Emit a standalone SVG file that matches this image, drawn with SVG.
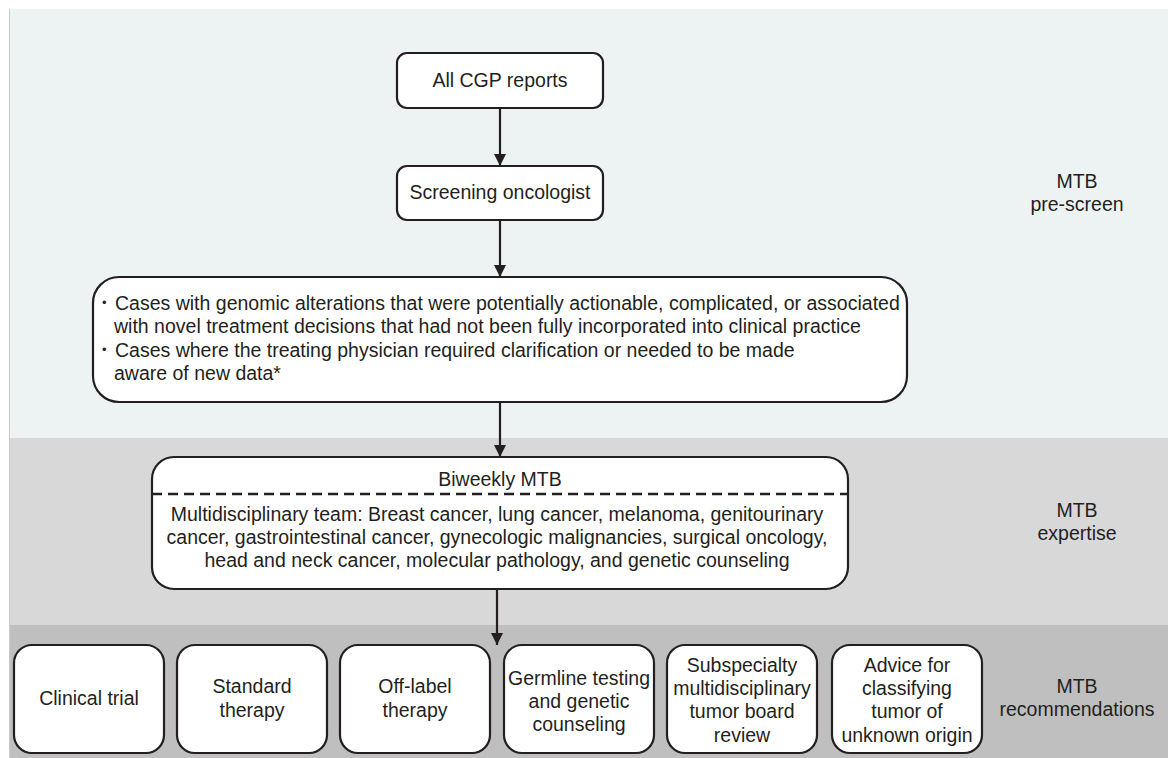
<svg xmlns="http://www.w3.org/2000/svg" width="1168" height="758" viewBox="0 0 1168 758">
<style>
.box{fill:#fff;stroke:#231f20;stroke-width:2.2}
.t{font-family:"Liberation Sans",Arial,sans-serif;font-size:19.5px;fill:#231f20}
.c{text-anchor:middle}
.b{font-family:"Liberation Sans",Arial,sans-serif;font-size:13px;fill:#231f20}
.s{font-family:"Liberation Sans",Arial,sans-serif;font-size:19.5px;fill:#231f20;text-anchor:middle}
.ln{stroke:#231f20;stroke-width:2.2;fill:none}
</style>
<defs>
<marker id="ah" viewBox="0 0 12 12" refX="12" refY="6" markerWidth="12" markerHeight="12" markerUnits="userSpaceOnUse" orient="auto">
<path d="M0,0 L12,6 L0,12 Z" fill="#231f20"/>
</marker>
</defs>
<rect x="0" y="0" width="1168" height="758" fill="#fff"/>
<g id="bands">
<rect x="9" y="9" width="1159" height="429" fill="#edf3f3"/>
<rect x="9" y="438" width="1159" height="187" fill="#d8d8d8"/>
<rect x="9" y="625" width="1159" height="133" fill="#bfbfbf"/>
<line x1="9.5" y1="9" x2="9.5" y2="758" stroke="#c8cccc" stroke-width="1"/>
</g>
<g id="side-labels">
<text class="s" x="1077" y="188">MTB</text>
<text class="s" x="1077" y="211">pre-screen</text>
<text class="s" x="1077" y="517">MTB</text>
<text class="s" x="1077" y="540">expertise</text>
<text class="s" x="1077" y="693">MTB</text>
<text class="s" x="1077" y="716">recommendations</text>
</g>
<g id="connectors">
<line class="ln" x1="500" y1="108" x2="500" y2="166" marker-end="url(#ah)"/>
<line class="ln" x1="500" y1="220" x2="500" y2="277" marker-end="url(#ah)"/>
<line class="ln" x1="500" y1="402" x2="500" y2="457" marker-end="url(#ah)"/>
<line class="ln" x1="497" y1="590" x2="497" y2="645" marker-end="url(#ah)"/>
</g>
<g id="node-cgp">
<rect class="box" x="397" y="53" width="206" height="55" rx="10"/>
<text class="t c" x="500" y="87">All CGP reports</text>
</g>
<g id="node-screening">
<rect class="box" x="397" y="166" width="206" height="54" rx="10"/>
<text class="t c" x="500" y="199">Screening oncologist</text>
</g>
<g id="node-cases">
<rect class="box" x="93" y="277" width="814" height="125" rx="26"/>
<text class="b" x="102" y="307">•</text>
<text class="t" x="115" y="310">Cases with genomic alterations that were potentially actionable, complicated, or associated</text>
<text class="t" x="114" y="333">with novel treatment decisions that had not been fully incorporated into clinical practice</text>
<text class="b" x="102" y="354">•</text>
<text class="t" x="115" y="357">Cases where the treating physician required clarification or needed to be made</text>
<text class="t" x="114" y="380">aware of new data*</text>
</g>
<g id="node-mtb">
<rect class="box" x="152" y="457" width="696" height="132" rx="22"/>
<line x1="152" y1="494" x2="848" y2="494" stroke="#231f20" stroke-width="2.5" stroke-dasharray="10,6"/>
<text class="t c" x="500" y="486">Biweekly MTB</text>
<text class="t c" x="497" y="521">Multidisciplinary team: Breast cancer, lung cancer, melanoma, genitourinary</text>
<text class="t c" x="497" y="544">cancer, gastrointestinal cancer, gynecologic malignancies, surgical oncology,</text>
<text class="t c" x="497" y="567">head and neck cancer, molecular pathology, and genetic counseling</text>
</g>
<g id="node-clinical">
<rect class="box" x="14" y="645" width="150" height="108" rx="18"/>
<text class="t c" x="89" y="705">Clinical trial</text>
</g>
<g id="node-standard">
<rect class="box" x="177" y="645" width="150" height="108" rx="18"/>
<text class="t c" x="252" y="693">Standard</text>
<text class="t c" x="252" y="717">therapy</text>
</g>
<g id="node-offlabel">
<rect class="box" x="340" y="645" width="150" height="108" rx="18"/>
<text class="t c" x="415" y="693">Off-label</text>
<text class="t c" x="415" y="717">therapy</text>
</g>
<g id="node-germline">
<rect class="box" x="504" y="645" width="150" height="108" rx="18"/>
<text class="t c" x="579" y="685">Germline testing</text>
<text class="t c" x="579" y="708">and genetic</text>
<text class="t c" x="579" y="731">counseling</text>
</g>
<g id="node-subspecialty">
<rect class="box" x="667" y="645" width="150" height="108" rx="18"/>
<text class="t c" x="742" y="672">Subspecialty</text>
<text class="t c" x="742" y="695">multidisciplinary</text>
<text class="t c" x="742" y="718">tumor board</text>
<text class="t c" x="742" y="742">review</text>
</g>
<g id="node-advice">
<rect class="box" x="832" y="645" width="150" height="108" rx="18"/>
<text class="t c" x="907" y="672">Advice for</text>
<text class="t c" x="907" y="695">classifying</text>
<text class="t c" x="907" y="718">tumor of</text>
<text class="t c" x="907" y="742">unknown origin</text>
</g>
</svg>
